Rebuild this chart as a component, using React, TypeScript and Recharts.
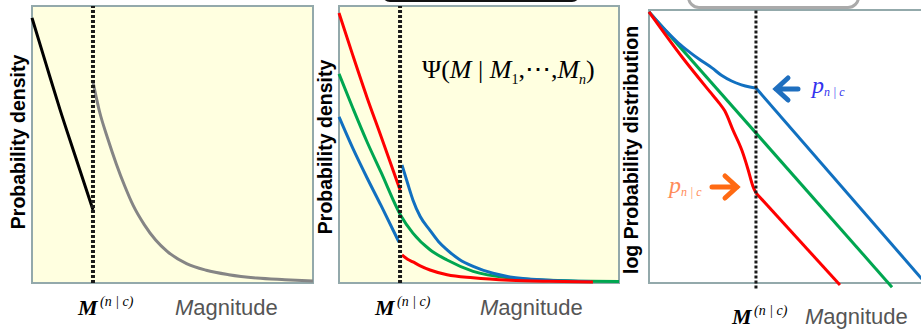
import { LineChart, Line, XAxis, YAxis, ReferenceLine } from 'recharts';

// magnitude cut-off position on each panel's x scale (0..100)
const cut1 = 21.7;
const cut2 = 21.8;
const cut3 = 38.2;

// panel 1: density before / after the cut-off
const p1BeforeX = [0, 5, 10, 15, 21.7];
const p1BeforeY = [95.7, 79, 62.5, 47, 26.4];
const p1AfterX = [21.7, 24, 27, 30, 33, 36, 40, 44, 48, 55, 62, 70, 80, 90, 100];
const p1AfterY = [72.6, 62, 52, 43, 35, 28, 21, 15.5, 11.5, 7, 4.6, 3, 1.8, 1.2, 0.7];

// panel 2: three conditional densities
const p2RedBeforeX = [0, 5, 10, 15, 21.8];
const p2RedBeforeY = [97.5, 82, 67, 53, 33.6];
const p2RedAfterX = [22.5, 24.5, 26.4, 29, 32.5, 38.6, 47.9, 61, 75, 90.7];
const p2RedAfterY = [10.1, 8.6, 7.6, 6.2, 4.7, 3, 1.9, 1, 0.6, 0.4];
const p2GreenX = [0, 5, 10, 15, 22, 26.4, 32.5, 38.6, 47.9, 61, 75, 90, 100];
const p2GreenY = [75.5, 63, 51, 40, 24.5, 18, 12, 8.3, 4.2, 1.8, 1, 0.6, 0.5];
const p2BlueBeforeX = [0, 5, 10, 15, 21.4];
const p2BlueBeforeY = [60, 48.5, 38, 28, 14.8];
const p2BlueAfterX = [22.5, 24.5, 26.4, 29, 32.5, 35.5, 38.6, 43, 47.9, 55, 61, 75, 90];
const p2BlueAfterY = [42.6, 36, 30, 24, 19, 15, 12, 8.5, 6, 3.5, 2.2, 1, 0.5];

// panel 3: log distributions
const p3BlueCurveX = [0, 6, 10.4, 14.6, 18.2, 22.5, 26, 29.5, 33, 36, 38.2];
const p3BlueCurveY = [99.3, 92.5, 88, 84.5, 81.8, 78.8, 76, 74, 72.6, 71.8, 71.4];
const p3BlueTailX = [38.2, 100];
const p3BlueTailY = [71.4, -1.5];
const p3GreenX = [0, 86.8];
const p3GreenY = [99.3, -1.5];
const p3RedCurveX = [0, 12, 21.8, 25, 27.1, 30, 33.2, 35.4, 37.1, 38.2];
const p3RedCurveY = [99.3, 82.5, 70, 66, 63, 56, 48.5, 41.5, 35.5, 33];
const p3RedTailX = [38.2, 68.2];
const p3RedTailY = [33, -0.7];

const zip = (xs: number[], ys: number[]) => xs.map((x, i) => ({ x, y: ys[i] }));

const RED = '#ff0000';
const GREEN = '#00a650';
const BLUE = '#1170c0';
const FRAME = '#93a9ab';
const PAPER = '#ffffe0';

const sans = '"Liberation Sans", Arial, sans-serif';
const serif = '"Liberation Serif", "Times New Roman", serif';

function curve(data: { x: number; y: number }[], color: string, type: 'monotone' | 'linear' = 'monotone', w = 3) {
  return (
    <Line
      data={data}
      dataKey="y"
      type={type}
      stroke={color}
      strokeWidth={w}
      dot={false}
      activeDot={false}
      isAnimationActive={false}
    />
  );
}

function MagLabel({ x, y, mx }: { x: number; y: number; mx: number }) {
  return (
    <>
      <text x={x} y={y} fontFamily={serif} fontSize={22} fontStyle="italic" fontWeight="bold">M</text>
      <text x={x + 22} y={y - 9} fontFamily={serif} fontSize={14} fontStyle="italic">(n | c)</text>
      <text x={mx} y={y} fontFamily={sans} fontSize={22} fill="#555">
        <tspan fontStyle="italic">M</tspan>agnitude
      </text>
    </>
  );
}

export default function App() {
  const frame = (left: number, top: number, width: number, height: number, bg: string) => (
    <div
      style={{
        position: 'absolute',
        left,
        top,
        width,
        height,
        boxSizing: 'border-box',
        border: `2px solid ${FRAME}`,
        background: bg,
      }}
    />
  );

  return (
    <div style={{ position: 'absolute', left: 0, top: 0, width: 921, height: 329, overflow: 'hidden', background: '#fff' }}>
      {frame(31, 5, 283, 279, PAPER)}
      {frame(338, 5, 282, 279, PAPER)}
      {frame(648, 9, 300, 275, '#fff')}

      {/* cut-off decorations at the top */}
      <div style={{ position: 'absolute', left: 382, top: -30, width: 198, height: 32, boxSizing: 'border-box', border: '2px solid #111', borderRadius: 8 }} />
      <div style={{ position: 'absolute', left: 687, top: -30, width: 173, height: 39, boxSizing: 'border-box', border: '3px solid #aaa', borderRadius: 12, background: '#fff' }} />

      <div style={{ position: 'absolute', left: 0, top: 0 }}>
        <LineChart width={330} height={300} margin={{ top: 6, left: 32, right: 17, bottom: 17 }}>
          <XAxis type="number" dataKey="x" domain={[0, 100]} hide />
          <YAxis type="number" domain={[0, 100]} hide />
          {curve(zip(p1BeforeX, p1BeforeY), '#000')}
          {curve(zip(p1AfterX, p1AfterY), '#858585')}
          <ReferenceLine x={cut1} stroke="#1a1a1a" strokeWidth={4} strokeDasharray="3 2" />
        </LineChart>
      </div>

      <div style={{ position: 'absolute', left: 310, top: 0 }}>
        <LineChart width={320} height={300} margin={{ top: 6, left: 29, right: 11, bottom: 17 }}>
          <XAxis type="number" dataKey="x" domain={[0, 100]} hide />
          <YAxis type="number" domain={[0, 100]} hide />
          {curve(zip(p2GreenX, p2GreenY), GREEN)}
          {curve(zip(p2BlueBeforeX, p2BlueBeforeY), BLUE)}
          {curve(zip(p2BlueAfterX, p2BlueAfterY), BLUE)}
          {curve(zip(p2RedBeforeX, p2RedBeforeY), RED)}
          {curve(zip(p2RedAfterX, p2RedAfterY), RED)}
          <ReferenceLine x={cut2} stroke="#1a1a1a" strokeWidth={4} strokeDasharray="3 2" />
        </LineChart>
      </div>

      <div style={{ position: 'absolute', left: 620, top: 0 }}>
        <LineChart width={320} height={300} margin={{ top: 10, left: 29, right: 11, bottom: 11.5 }}>
          <XAxis type="number" dataKey="x" domain={[0, 100]} hide />
          <YAxis type="number" domain={[-2, 100]} hide />
          {curve(zip(p3GreenX, p3GreenY), GREEN, 'linear')}
          {curve(zip(p3BlueCurveX, p3BlueCurveY), BLUE)}
          {curve(zip(p3BlueTailX, p3BlueTailY), BLUE, 'linear')}
          {curve(zip(p3RedCurveX, p3RedCurveY), RED)}
          {curve(zip(p3RedTailX, p3RedTailY), RED, 'linear')}
          <ReferenceLine x={cut3} stroke="#1a1a1a" strokeWidth={3} strokeDasharray="3 2" />
        </LineChart>
      </div>

      <svg width={921} height={329} style={{ position: 'absolute', left: 0, top: 0, pointerEvents: 'none' }}>
        <text transform="translate(25,142) rotate(-90)" textAnchor="middle" fontFamily={sans} fontSize={19.5} fontWeight="bold">
          Probability density
        </text>
        <text transform="translate(332,147) rotate(-90)" textAnchor="middle" fontFamily={sans} fontSize={19.5} fontWeight="bold">
          Probability density
        </text>
        <text transform="translate(638,150) rotate(-90)" textAnchor="middle" fontFamily={sans} fontSize={19.5} fontWeight="bold">
          log Probability distribution
        </text>

        <MagLabel x={78} y={315} mx={175} />
        <MagLabel x={375} y={315} mx={480} />
        <MagLabel x={732} y={324} mx={805} />

        <text x={422} y={78} fontFamily={serif} fontSize={26}>
          Ψ(<tspan fontStyle="italic">M</tspan> | <tspan fontStyle="italic">M</tspan>
          <tspan fontSize={14} dy={6}>1</tspan>
          <tspan dy={-6}>,⋯,</tspan>
          <tspan fontStyle="italic">M</tspan>
          <tspan fontSize={14} fontStyle="italic" dy={6}>n</tspan>
          <tspan dy={-6}>)</tspan>
        </text>

        <path d="M 798 89 L 776 89 M 788 78 L 776 89 L 788 100" stroke="#1f6fbf" strokeWidth={5} fill="none" strokeLinecap="round" />
        <text x={812} y={93} fontFamily={serif} fontSize={24} fontStyle="italic" fill="#3333ee">
          p<tspan fontSize={12} dy={3}>n | c</tspan>
        </text>

        <path d="M 712 187 L 737 187 M 725 176 L 737 187 L 725 198" stroke="#ff6a13" strokeWidth={5} fill="none" strokeLinecap="round" />
        <text x={669} y={193} fontFamily={serif} fontSize={24} fontStyle="italic" fill="#ff8c5a">
          p<tspan fontSize={12} dy={3}>n | c</tspan>
        </text>
      </svg>
    </div>
  );
}
